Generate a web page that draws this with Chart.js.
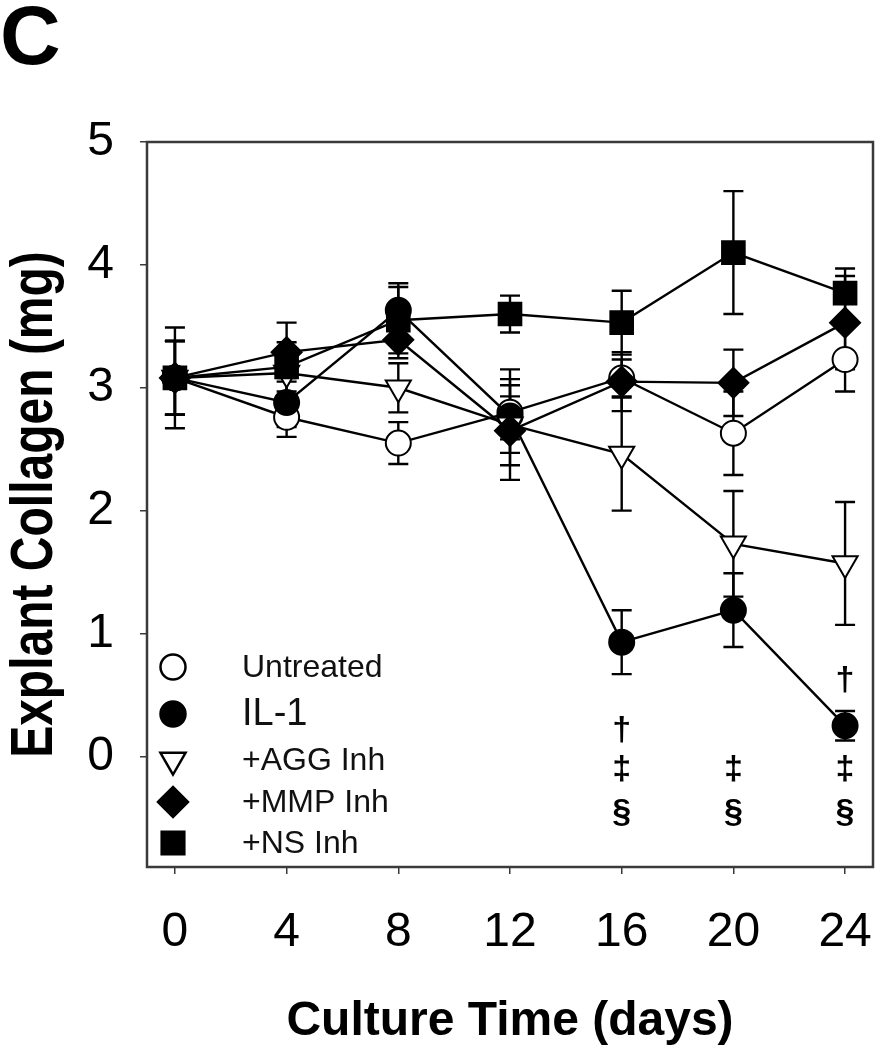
<!DOCTYPE html>
<html>
<head>
<meta charset="utf-8">
<script src="https://cdn.jsdelivr.net/npm/chart.js@4.4.0/dist/chart.umd.min.js"></script>
<style>
  body { margin: 0; background: #fff; }
  #wrap { width: 880px; height: 1050px; }
</style>
</head>
<body>
<div id="wrap"><canvas id="chart" width="880" height="1050"></canvas></div>
<script>
// Culture time (days) and explant collagen (mg), mean with +/- error per group.
const DAYS = [0, 4, 8, 12, 16, 20, 24];

const UNTREATED     = [3.08, 2.76, 2.55, 2.80, 3.08, 2.63, 3.23];
const UNTREATED_ERR = [0.41, 0.16, 0.17, 0.22, 0.15, 0.34, 0.26];
const IL1           = [3.08, 2.88, 3.63, 2.77, 0.93, 1.19, 0.25];
const IL1_ERR       = [0.30, 0.20, 0.22, 0.30, 0.26, 0.30, 0.12];
const AGG           = [3.08, 3.12, 3.00, 2.70, 2.46, 1.73, 1.57];
const AGG_ERR       = [0.30, 0.20, 0.20, 0.45, 0.46, 0.43, 0.50];
const MMP           = [3.08, 3.29, 3.39, 2.65, 3.05, 3.04, 3.53];
const MMP_ERR       = [0.30, 0.24, 0.15, 0.28, 0.24, 0.27, 0.38];
const NS            = [3.08, 3.17, 3.55, 3.60, 3.53, 4.10, 3.77];
const NS_ERR        = [0.30, 0.20, 0.27, 0.15, 0.26, 0.50, 0.20];

const X_TICKS = [0, 4, 8, 12, 16, 20, 24];
const Y_TICKS = [0, 1, 2, 3, 4, 5];

// Significance marks under the IL-1 points: [day, value, symbol]
const SIG_MARKS = [
  [16, 0.21, "†"], [16, -0.11, "‡"], [16, -0.46, "§"],
  [20, -0.11, "‡"], [20, -0.46, "§"],
  [24, 0.62, "†"], [24, -0.11, "‡"], [24, -0.46, "§"],
];

const FONT = '"Liberation Sans", Arial, sans-serif';

function pts(values) {
  return DAYS.map((d, i) => ({ x: d, y: values[i] }));
}

// pointStyle, rotation, radius, fill for each group (legend reuses these)
const GROUPS = [
  { label: "Untreated", data: UNTREATED, err: UNTREATED_ERR, style: "circle", rot: 0, r: 12.5, fill: "#fff", size: 32 },
  { label: "IL-1", data: IL1, err: IL1_ERR, style: "circle", rot: 0, r: 12.5, fill: "#000", size: 38 },
  { label: "+AGG Inh", data: AGG, err: AGG_ERR, style: "triangle", rot: 180, r: 14.5, fill: "#fff", size: 32 },
  { label: "+MMP Inh", data: MMP, err: MMP_ERR, style: "rectRot", rot: 0, r: 15, fill: "#000", size: 32 },
  { label: "+NS Inh", data: NS, err: NS_ERR, style: "rect", rot: 0, r: 16, fill: "#000", size: 32 },
];

const errorBars = {
  id: "errorBars",
  beforeDatasetsDraw(chart) {
    const { ctx, scales: { x, y } } = chart;
    ctx.save();
    ctx.strokeStyle = "#000";
    ctx.lineWidth = 2.4;
    for (let g = GROUPS.length - 1; g >= 0; g--) {
      const grp = GROUPS[g];
      grp.data.forEach((v, i) => {
        const px = x.getPixelForValue(DAYS[i]);
        const top = y.getPixelForValue(v + grp.err[i]);
        const bot = y.getPixelForValue(v - grp.err[i]);
        ctx.beginPath();
        ctx.moveTo(px, top); ctx.lineTo(px, bot);
        ctx.moveTo(px - 10, top); ctx.lineTo(px + 10, top);
        ctx.moveTo(px - 10, bot); ctx.lineTo(px + 10, bot);
        ctx.stroke();
      });
    }
    ctx.restore();
  },
};

const decorations = {
  id: "decorations",
  afterDraw(chart) {
    const { ctx, chartArea: a, scales: { x, y } } = chart;
    ctx.save();

    // box round the plot
    ctx.strokeStyle = "#3a3a3a";
    ctx.lineWidth = 2.5;
    ctx.strokeRect(a.left, a.top, a.right - a.left, a.bottom - a.top);

    // legend inside the plot, lower left
    const legendY = [667, 714, 760, 802, 843];
    GROUPS.forEach((grp, i) => {
      ctx.fillStyle = grp.fill;
      ctx.strokeStyle = "#000";
      Chart.helpers.drawPoint(ctx, {
        pointStyle: grp.style, rotation: grp.rot, radius: grp.r, borderWidth: 2,
      }, 173, legendY[i]);
      ctx.fillStyle = "#111";
      ctx.font = `${grp.size}px ${FONT}`;
      ctx.textAlign = "left";
      ctx.textBaseline = "middle";
      ctx.fillText(grp.label, 242, legendY[i] + 1);
    });

    // significance symbols
    ctx.fillStyle = "#000";
    ctx.font = `bold 34px ${FONT}`;
    ctx.textAlign = "center";
    ctx.textBaseline = "middle";
    for (const [d, v, s] of SIG_MARKS) {
      ctx.fillText(s, x.getPixelForValue(d), y.getPixelForValue(v));
    }

    // axis titles
    ctx.font = `bold 48px ${FONT}`;
    ctx.textBaseline = "alphabetic";
    ctx.fillText("Culture Time (days)", (a.left + a.right) / 2, 1035);
    ctx.save();
    ctx.translate(52, (a.top + a.bottom) / 2);
    ctx.rotate(-Math.PI / 2);
    ctx.scale(1, 1.22);
    ctx.font = `bold 48px ${FONT}`;
    ctx.fillText("Explant Collagen (mg)", 0, 0);
    ctx.restore();

    // panel letter
    ctx.font = `bold 84px ${FONT}`;
    ctx.textAlign = "left";
    ctx.fillText("C", 0, 64);
    ctx.restore();
  },
};

new Chart(document.getElementById("chart"), {
  type: "line",
  data: {
    datasets: GROUPS.map((grp) => ({
      label: grp.label,
      data: pts(grp.data),
      borderColor: "#000",
      borderWidth: 2.4,
      pointStyle: grp.style,
      pointRotation: grp.rot,
      pointRadius: grp.r,
      pointBackgroundColor: grp.fill,
      pointBorderColor: "#000",
      pointBorderWidth: 2,
      tension: 0,
    })).reverse(),
  },
  options: {
    responsive: false,
    animation: false,
    events: [],
    layout: { autoPadding: false, padding: { left: 0, top: 142, right: 7, bottom: 0 } },
    plugins: { legend: { display: false }, tooltip: { enabled: false } },
    scales: {
      x: {
        type: "linear", min: -1, max: 25,
        afterFit: (s) => { s.height = 1050 - 867; s.paddingLeft = 0; s.paddingRight = 0; },
        afterBuildTicks: (s) => { s.ticks = X_TICKS.map((v) => ({ value: v })); },
        grid: { drawOnChartArea: false, tickLength: 7, color: "#3a3a3a", lineWidth: 1.5 },
        border: { display: false },
        ticks: { color: "#000", padding: 30, font: { family: FONT, size: 48 } },
      },
      y: {
        type: "linear", min: -0.9, max: 5,
        afterFit: (s) => { s.width = 147; s.paddingTop = 0; s.paddingBottom = 0; },
        afterBuildTicks: (s) => { s.ticks = Y_TICKS.map((v) => ({ value: v })); },
        grid: { drawOnChartArea: false, tickLength: 7, color: "#3a3a3a", lineWidth: 1.5 },
        border: { display: false },
        ticks: { color: "#000", padding: 26, font: { family: FONT, size: 48 } },
      },
    },
  },
  plugins: [errorBars, decorations],
});
</script>
</body>
</html>
